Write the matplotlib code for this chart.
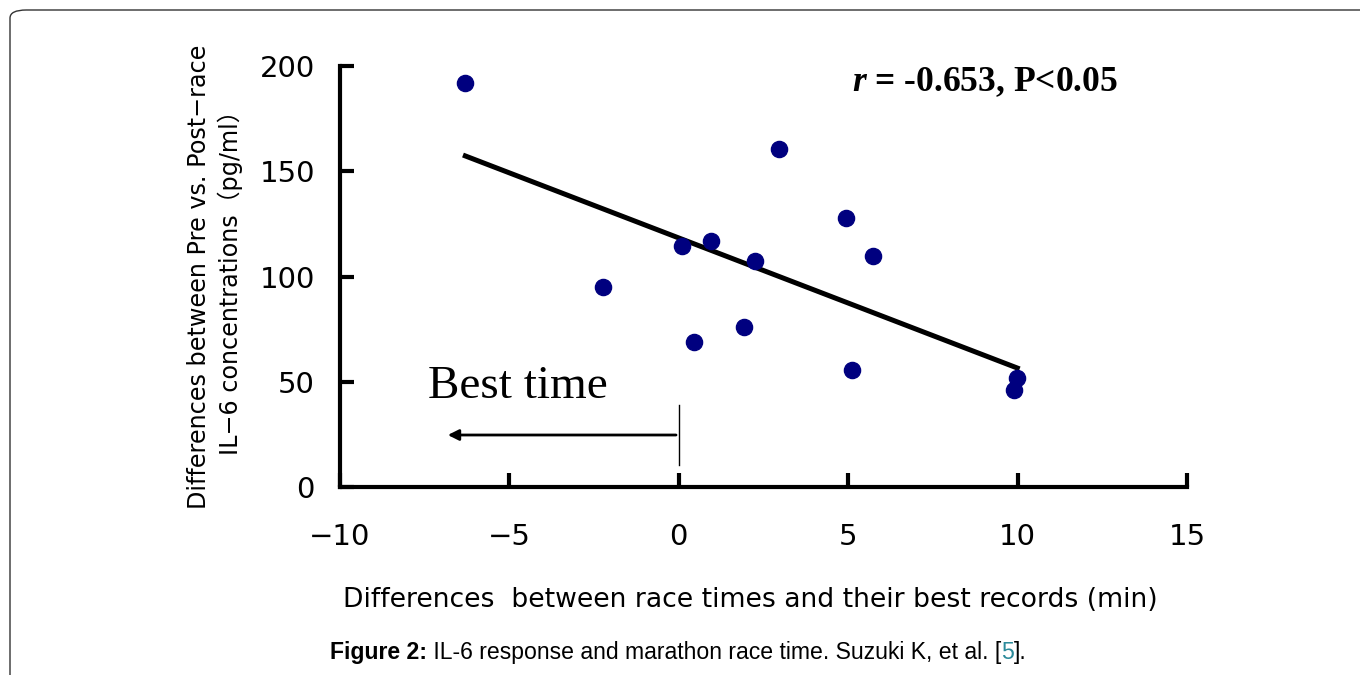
import matplotlib
matplotlib.use("Agg")
import matplotlib.pyplot as plt
from matplotlib.patches import FancyBboxPatch

# data
race_diff_min = [-6.3, 2.95, 4.93, 0.94, 0.09, 2.24, 5.72, -2.24, 1.92, 0.44, 5.10, 9.97, 9.88]
il6_diff_pgml = [191.9, 160.6, 127.8, 116.9, 114.5, 107.4, 109.7, 95.0, 76.0, 68.9, 55.6, 51.8, 46.1]
fit_x = [-6.37, 10.06]
fit_y = [157.7, 56.1]
x_ticks = [-10, -5, 0, 5, 10, 15]
y_ticks = [0, 50, 100, 150, 200]

plt.rcParams['mathtext.fontset'] = 'custom'
plt.rcParams['mathtext.it'] = 'Liberation Serif:italic:bold'
plt.rcParams['mathtext.rm'] = 'Liberation Serif:bold'

fig = plt.figure(figsize=(13.6, 6.75), dpi=100)

# rounded frame around the figure panel
frame = FancyBboxPatch((10 / 1360, -0.2), 1.2, 1.2 - 10 / 675,
                       boxstyle="round,pad=0,rounding_size=0.012",
                       transform=fig.transFigure, fill=False,
                       edgecolor='#333333', lw=1.0)
fig.patches.append(frame)

ax = fig.add_axes([340 / 1360, 1 - 487 / 675, (1187 - 340) / 1360, (487 - 66) / 675])
ax.scatter(race_diff_min, il6_diff_pgml, s=135, color='#00007f', zorder=3, clip_on=False)
ax.plot(fit_x, fit_y, color='black', lw=3.6, solid_capstyle='butt')

# best-time arrow
ax.plot([0, 0], [10.5, 39], color='black', lw=1.0)
ax.annotate('', xy=(-6.9, 24.7), xytext=(0, 24.7),
            arrowprops=dict(arrowstyle='-|>', lw=2.0, color='black', mutation_scale=16))
ax.text(-7.4, 47.5, 'Best time', family='Liberation Serif', fontsize=34,
        ha='left', va='center')
ax.text(5.1, 192.5, r'$r$ = -0.653, P<0.05', family='Liberation Serif',
        fontweight='bold', fontsize=25.6, ha='left', va='center')

ax.set_xlim(-10, 15)
ax.set_ylim(0, 200)
ax.set_xticks(x_ticks)
ax.set_yticks(y_ticks)
ax.set_xticklabels(['\u221210', '\u22125', '0', '5', '10', '15'])
for s in ['top', 'right']:
    ax.spines[s].set_visible(False)
for s in ['left', 'bottom']:
    ax.spines[s].set_linewidth(3)
ax.tick_params(direction='in', length=10, width=3, labelsize=21)
ax.tick_params(axis='x', pad=26)
ax.tick_params(axis='y', pad=18)

ax.set_xlabel('Differences  between race times and their best records (min)',
              fontsize=19.2)
ax.xaxis.set_label_coords(0.484, -0.237)
ax.set_ylabel('Differences between Pre vs. Post\u2212race\nIL\u22126 concentrations\uff08pg/ml\uff09',
              fontsize=17.2, labelpad=12, linespacing=1.3,
              family=['DejaVu Sans', 'Noto Sans CJK JP'])

# caption
t1 = fig.text(330 / 1360, 1 - 664 / 675, 'Figure 2:', family='Liberation Sans',
              fontweight='bold', fontsize=16.6, ha='left', va='bottom')
t2 = ax.annotate(' IL-6 response and marathon race time. Suzuki K, et al. [', xy=(1, 0),
                 xycoords=t1, family='Liberation Sans', fontsize=16.6, ha='left', va='bottom')
t3 = ax.annotate('5', xy=(1, 0), xycoords=t2, family='Liberation Sans', fontsize=16.6,
                 color='#2b8a9a', ha='left', va='bottom')
ax.annotate('].', xy=(1, 0), xycoords=t3, family='Liberation Sans', fontsize=16.6,
            ha='left', va='bottom')

fig.savefig('out.png', dpi=100)
